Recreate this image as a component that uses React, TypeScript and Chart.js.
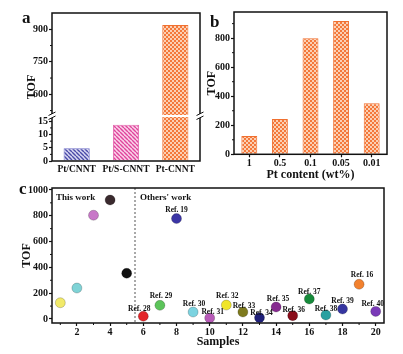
import React, { useEffect, useRef } from 'react';
import { Chart, registerables } from 'chart.js';
Chart.register(...registerables);

// ---------- data ----------
const catA = ['Pt/CNNT', 'Pt/S-CNNT', 'Pt-CNNT'];
const tofA = [4.8, 13.7, 920];
const ticksALow = [0, 5, 10, 15];
const ticksAHigh = [600, 750, 900];
const minorA = [2.5, 7.5, 12.5, 525, 675, 825];

const catB = ['1', '0.5', '0.1', '0.05', '0.01'];
const tofB = [126, 243, 800, 918, 352];
const ticksB = [0, 200, 400, 600, 800];
const minorB = [100, 300, 500, 700, 900];

const samplesC = [1, 2, 3, 4, 5, 6, 7, 8, 9, 10, 11, 12, 13, 14, 15, 16, 17, 18, 19, 20];
const tofC = [126, 240, 804, 922, 354, 21, 106, 778, 54, 8, 108, 54, 10, 93, 26, 155, 31, 77, 269, 59];
const refC = ['', '', '', '', '', 'Ref. 28', 'Ref. 29', 'Ref. 19', 'Ref. 30', 'Ref. 31', 'Ref. 32', 'Ref. 33',
  'Ref. 34', 'Ref. 35', 'Ref. 36', 'Ref. 37', 'Ref. 38', 'Ref. 39', 'Ref. 16', 'Ref. 40'];
const ticksCX = [2, 4, 6, 8, 10, 12, 14, 16, 18, 20];
const ticksCY = [0, 200, 400, 600, 800, 1000];
const minorCX = [1, 3, 5, 7, 9, 11, 13, 15, 17, 19];
const minorCY = [100, 300, 500, 700, 900];
const divider = 5.5;

// ---------- styles ----------
const fillC = ['#f2ea6a', '#7fd3d6', '#c878c8', '#3a2a2e', '#111111', '#e3262a', '#5cc45a', '#3b35a5', '#7cd3e0', '#b85ab8',
  '#f0e52a', '#7e7a1e', '#1f1f7a', '#862a90', '#8a0d1a', '#168a3a', '#2aa0a0', '#3535a0', '#f2812e', '#7a3ab8'];
const coreC = ['#e07aa0', '#0b5f63', '#3a1040', '#c01f35', '#2ea040', '#2a3aa0', '#3a9a3a', '#2a2080', '#a8e8f0', '#9a3a9a',
  '#111111', '#b02020', '#15156a', '#5a1070', '#2a8a3a', '#1a2a70', '#e08a2a', '#2a2a88', '#f4a060', '#ffffff'];
const labelDx = [0, 0, 0, 0, 0, -4, 1, 0, 1, 3, 1, 1, 2, 2, 1, 0, 0, 0, 3, -3];
const labelDy = [0, 0, 0, 0, 0, 7, 9, 9, 8, 6, 9, 6, 5, 8, 6, 7, 6, 8, 9, 7];

const FAM = '"Liberation Serif", "Times New Roman", serif';
const tickFont = { family: FAM, weight: 'bold' as const, size: 10, lineHeight: 1 };
const titleFont = { family: FAM, weight: 'bold' as const, size: 12, lineHeight: 1.2 };

// broken axis mapping for panel a
const lowTop = 17, highBottom = 500, axisTop = 975, lowShare = 0.304;
const toAxis = (v: number) =>
  v <= lowTop ? (v / lowTop) * lowShare : lowShare + ((v - highBottom) / (axisTop - highBottom)) * (1 - lowShare);

function stripe(fg: string, bg: string) {
  const c = document.createElement('canvas');
  c.width = 4; c.height = 4;
  const g = c.getContext('2d')!;
  g.fillStyle = bg; g.fillRect(0, 0, 4, 4);
  g.strokeStyle = fg; g.lineWidth = 1.4;
  g.beginPath();
  for (const k of [-4, 0, 4]) { g.moveTo(k, 0); g.lineTo(k + 4, 4); }
  g.stroke();
  return g.createPattern(c, 'repeat')!;
}
function checker(fg: string, bg: string) {
  const c = document.createElement('canvas');
  c.width = 4; c.height = 4;
  const g = c.getContext('2d')!;
  g.fillStyle = bg; g.fillRect(0, 0, 4, 4);
  g.fillStyle = fg; g.fillRect(0, 0, 2, 2); g.fillRect(2, 2, 2, 2);
  return g.createPattern(c, 'repeat')!;
}

function frame(chart: any) {
  const { ctx, chartArea: a } = chart;
  ctx.save();
  ctx.strokeStyle = '#111'; ctx.lineWidth = 1.5;
  ctx.strokeRect(a.left, a.top, a.right - a.left, a.bottom - a.top);
  ctx.restore();
}
function minorY(chart: any, vals: number[], map: (v: number) => number = (v) => v) {
  const { ctx, chartArea: a, scales } = chart;
  ctx.save(); ctx.strokeStyle = '#111'; ctx.lineWidth = 1;
  ctx.beginPath();
  vals.forEach((v) => { const y = scales.y.getPixelForValue(map(v)); ctx.moveTo(a.left - 2, y); ctx.lineTo(a.left, y); });
  ctx.stroke(); ctx.restore();
}
function letter(chart: any, t: string, x: number, y: number) {
  const { ctx } = chart;
  ctx.save(); ctx.fillStyle = '#111'; ctx.font = `bold 17px ${FAM}`;
  ctx.textAlign = 'left'; ctx.textBaseline = 'alphabetic';
  ctx.fillText(t, x, y); ctx.restore();
}

const plainTicks = { font: tickFont, color: '#111', padding: 1, autoSkip: false, callback: (v: any) => String(v) };

function yAxisBase(width: number) {
  return {
    border: { display: false },
    grid: { drawOnChartArea: false, drawTicks: true, tickLength: 3, tickColor: '#111', tickWidth: 1.2 },
    ticks: plainTicks,
    afterFit: (s: any) => { s.width = width; },
  };
}

function makeA(cv: HTMLCanvasElement) {
  const allTicks = [...ticksALow, ...ticksAHigh];
  return new Chart(cv, {
    type: 'bar',
    data: {
      labels: catA,
      datasets: [{
        data: tofA.map(toAxis),
        backgroundColor: [stripe('#4a4aa8', '#d8d8f2'), stripe('#e0449c', '#fad4ea'), checker('#fbd0b4', '#f4783a')],
        borderColor: ['#7070c8', '#e46cb0', '#f07030'],
        borderWidth: 1,
        barPercentage: 0.53,
        categoryPercentage: 1,
      }],
    },
    options: {
      responsive: false, animation: false,
      layout: { padding: { left: 24.3, right: 203, top: 13, bottom: 173 } },
      plugins: { legend: { display: false }, tooltip: { enabled: false } },
      scales: {
        x: {
          border: { display: false },
          grid: { drawOnChartArea: false, tickLength: 3, tickColor: 'transparent' },
          ticks: { font: { ...tickFont, size: 9.5 }, color: '#111', padding: 1, maxRotation: 0, minRotation: 0, autoSkip: false },
          afterFit: (s: any) => { s.height = 20; },
        },
        y: {
          ...yAxisBase(27.7),
          min: 0, max: 1,
          afterBuildTicks: (s: any) => { s.ticks = allTicks.map((v) => ({ value: toAxis(v) })); },
          ticks: { ...plainTicks, callback: (_v: any, i: number) => String(allTicks[i]) },
          title: { display: true, text: 'TOF', font: titleFont, color: '#111', padding: 0 },
        } as any,
      },
    },
    plugins: [{
      id: 'decoA',
      afterDraw(chart: any) {
        frame(chart);
        minorY(chart, minorA, toAxis);
        const { ctx, chartArea: a, scales } = chart;
        const yb = scales.y.getPixelForValue(lowShare);
        ctx.save();
        ctx.fillStyle = '#fff';
        ctx.fillRect(a.left + 1, yb - 1, a.right - a.left - 2, 2);
        ctx.strokeStyle = '#111'; ctx.lineWidth = 1;
        for (const x of [a.left, a.right]) {
          ctx.fillStyle = '#fff';
          ctx.fillRect(x - 1.5, yb - 2, 3, 4);
          ctx.beginPath();
          ctx.moveTo(x - 3.5, yb - 0.5); ctx.lineTo(x + 3.5, yb - 4);
          ctx.moveTo(x - 3.5, yb + 3.5); ctx.lineTo(x + 3.5, yb);
          ctx.stroke();
        }
        ctx.restore();
        letter(chart, 'a', 22, 23);
      },
    }],
  } as any);
}

function makeB(cv: HTMLCanvasElement) {
  return new Chart(cv, {
    type: 'bar',
    data: {
      labels: catB,
      datasets: [{
        data: tofB,
        backgroundColor: checker('#fbd0b4', '#f4783a'),
        borderColor: '#f07030',
        borderWidth: 1,
        barPercentage: 0.52,
        categoryPercentage: 1,
      }],
    },
    options: {
      responsive: false, animation: false,
      layout: { padding: { left: 204.8, right: 16, top: 12, bottom: 172.2 } },
      plugins: { legend: { display: false }, tooltip: { enabled: false } },
      scales: {
        x: {
          border: { display: false },
          grid: { drawOnChartArea: false, offset: false, tickLength: 3, tickColor: '#111', tickWidth: 1.2 },
          ticks: { font: tickFont, color: '#111', padding: 1, maxRotation: 0, minRotation: 0, autoSkip: false },
          title: { display: true, text: 'Pt content (wt%)', font: titleFont, color: '#111', padding: 0 },
          afterFit: (s: any) => { s.height = 27.5; },
        },
        y: {
          ...yAxisBase(29.2),
          min: 0, max: 980,
          afterBuildTicks: (s: any) => { s.ticks = ticksB.map((v) => ({ value: v })); },
          title: { display: true, text: 'TOF', font: titleFont, color: '#111', padding: 0 },
        } as any,
      },
    },
    plugins: [{
      id: 'decoB',
      afterDraw(chart: any) {
        frame(chart);
        minorY(chart, minorB);
        letter(chart, 'b', 210, 27);
      },
    }],
  } as any);
}

function makeC(cv: HTMLCanvasElement) {
  const pts = samplesC.map((x, i) => ({ x, y: tofC[i] }));
  return new Chart(cv, {
    type: 'scatter',
    data: {
      datasets: [
        {
          data: pts,
          backgroundColor: fillC,
          borderColor: 'rgba(0,0,0,0.2)',
          borderWidth: 1,
          pointRadius: 5,
        },
        {
          data: pts,
          backgroundColor: coreC,
          borderWidth: 0,
          pointRadius: 1.5,
        },
      ],
    },
    options: {
      responsive: false, animation: false,
      layout: { padding: { left: 19.8, right: 19, top: 188, bottom: 4.8 } },
      plugins: { legend: { display: false }, tooltip: { enabled: false } },
      scales: {
        x: {
          type: 'linear', min: 0.5, max: 20.5,
          border: { display: false },
          grid: { drawOnChartArea: false, tickLength: 3, tickColor: '#111', tickWidth: 1.2 },
          ticks: { ...plainTicks, maxRotation: 0 },
          afterBuildTicks: (s: any) => { s.ticks = ticksCX.map((v) => ({ value: v })); },
          title: { display: true, text: 'Samples', font: titleFont, color: '#111', padding: 0 },
          afterFit: (s: any) => { s.height = 26.2; },
        },
        y: {
          ...yAxisBase(32.2),
          min: -31, max: 1015,
          afterBuildTicks: (s: any) => { s.ticks = ticksCY.map((v) => ({ value: v })); },
          title: { display: true, text: 'TOF', font: titleFont, color: '#111', padding: 0 },
        } as any,
      },
    },
    plugins: [{
      id: 'decoC',
      beforeDatasetsDraw(chart: any) {
        const { ctx, chartArea: a, scales } = chart;
        const x = scales.x.getPixelForValue(divider);
        ctx.save();
        ctx.strokeStyle = '#555'; ctx.lineWidth = 1; ctx.setLineDash([2, 2]);
        ctx.beginPath(); ctx.moveTo(x, a.top); ctx.lineTo(x, a.bottom); ctx.stroke();
        ctx.restore();
      },
      afterDraw(chart: any) {
        const { ctx, chartArea: a, scales } = chart;
        frame(chart);
        minorY(chart, minorCY);
        ctx.save();
        ctx.strokeStyle = '#111'; ctx.lineWidth = 1;
        ctx.beginPath();
        minorCX.forEach((v) => { const x = scales.x.getPixelForValue(v); ctx.moveTo(x, a.bottom); ctx.lineTo(x, a.bottom + 2); });
        ctx.stroke();
        ctx.fillStyle = '#111';
        ctx.font = `bold 9px ${FAM}`;
        ctx.textAlign = 'left'; ctx.textBaseline = 'middle';
        ctx.fillText('This work', 56, 198);
        ctx.fillText("Others' work", scales.x.getPixelForValue(divider) + 5, 198);
        ctx.font = `bold 7.5px ${FAM}`;
        ctx.textAlign = 'center';
        refC.forEach((t, i) => {
          if (!t) return;
          const px = scales.x.getPixelForValue(samplesC[i]);
          const py = scales.y.getPixelForValue(tofC[i]);
          ctx.fillText(t, px + labelDx[i], py - labelDy[i]);
        });
        ctx.restore();
        letter(chart, 'c', 19, 194);
      },
    }],
  } as any);
}

export default function App() {
  const a = useRef<HTMLCanvasElement>(null);
  const b = useRef<HTMLCanvasElement>(null);
  const c = useRef<HTMLCanvasElement>(null);
  useEffect(() => {
    const charts = [makeA(a.current!), makeB(b.current!), makeC(c.current!)];
    return () => charts.forEach((ch) => ch.destroy());
  }, []);
  const st: React.CSSProperties = { position: 'absolute', left: 0, top: 0, width: 403, height: 354 };
  return (
    <div style={{ position: 'absolute', left: 0, top: 0, width: 403, height: 354, background: '#fff', overflow: 'hidden' }}>
      <canvas ref={a} width={403} height={354} style={st} />
      <canvas ref={b} width={403} height={354} style={st} />
      <canvas ref={c} width={403} height={354} style={st} />
    </div>
  );
}
